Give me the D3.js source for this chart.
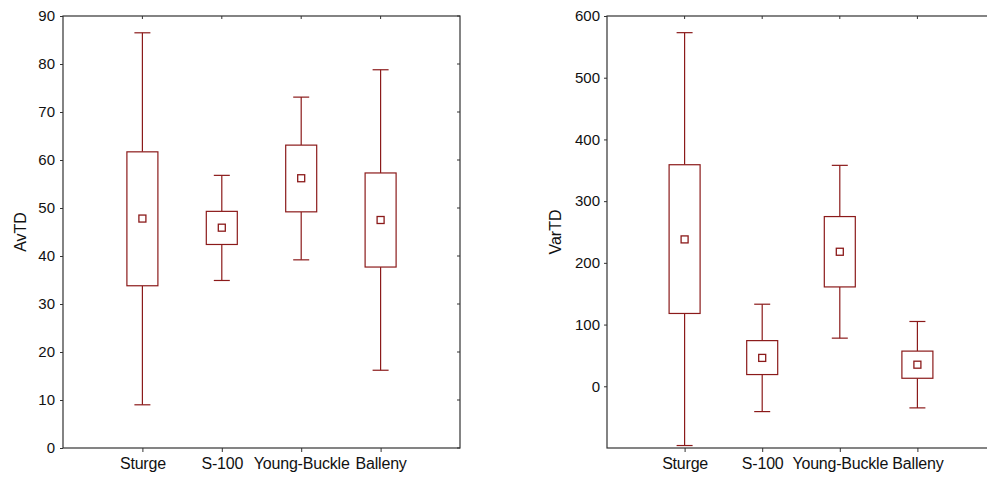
<!DOCTYPE html>
<html lang="en">
<head>
    <meta charset="UTF-8">
    <title>AvTD and VarTD box plots</title>
    <script src="https://d3js.org/d3.v7.min.js"></script>
    <style>
        body { margin: 0; background: #fff; }
        svg { display: block; font-family: "Liberation Sans", Arial, sans-serif; }
    </style>
</head>
<body>
    <script>
    // categories shared by both panels
    const sites = ["Sturge", "S-100", "Young-Buckle", "Balleny"];

    // AvTD: whisker low, box low, mean, box high, whisker high
    const avLow = [9.0, 34.9, 39.2, 16.2];
    const avQ1 = [33.8, 42.4, 49.2, 37.7];
    const avMean = [47.8, 45.9, 56.2, 47.5];
    const avQ3 = [61.7, 49.3, 63.1, 57.3];
    const avHigh = [86.5, 56.8, 73.1, 78.8];
    const avTicks = [0, 10, 20, 30, 40, 50, 60, 70, 80, 90];

    // VarTD
    const varLow = [-96, -41, 78, -35];
    const varQ1 = [118, 19, 161, 13];
    const varMean = [238, 46, 218, 35];
    const varQ3 = [359, 74, 275, 57];
    const varHigh = [573, 133, 358, 105];
    const varTicks = [0, 100, 200, 300, 400, 500, 600];

    const W = 987, H = 477;
    const red = "#8b1a1a";
    const frame = "#333";

    const svg = d3.select("body").append("svg")
        .attr("width", W)
        .attr("height", H);

    function panel(opt) {
        const x = d3.scalePoint().domain(sites).range([opt.left, opt.right]).padding(1);
        const y = d3.scaleLinear().domain(opt.domain).range([448, 16]);
        const g = svg.append("g");

        // frame
        g.append("rect")
            .attr("x", opt.left).attr("y", 16)
            .attr("width", opt.right - opt.left).attr("height", 432)
            .attr("fill", "none").attr("stroke", frame).attr("stroke-width", 1.2);

        // left axis (labels + outside ticks)
        const yAxis = g.append("g")
            .attr("transform", `translate(${opt.left},0)`)
            .call(d3.axisLeft(y).tickValues(opt.ticks).tickSize(3).tickPadding(opt.pad));
        yAxis.select(".domain").remove();
        yAxis.selectAll("line").attr("stroke", frame);
        yAxis.selectAll("text").attr("font-size", 15).attr("fill", "#111")
            .attr("font-family", "Liberation Sans, Arial, sans-serif");

        // right inside ticks
        g.append("g").selectAll("line").data(opt.ticks).join("line")
            .attr("x1", opt.right - 3).attr("x2", opt.right)
            .attr("y1", d => y(d)).attr("y2", d => y(d))
            .attr("stroke", frame);

        // bottom axis
        const xAxis = g.append("g")
            .attr("transform", "translate(0,448)")
            .call(d3.axisBottom(x).tickSize(4).tickPadding(6));
        xAxis.select(".domain").remove();
        xAxis.selectAll("line").attr("stroke", frame);
        xAxis.selectAll("text").attr("font-size", 16).attr("fill", "#111")
            .attr("font-family", "Liberation Sans, Arial, sans-serif")
            .attr("letter-spacing", -0.2);

        // top inside ticks
        g.append("g").selectAll("line").data(sites).join("line")
            .attr("x1", d => x(d)).attr("x2", d => x(d))
            .attr("y1", 16).attr("y2", 19)
            .attr("stroke", frame);

        // y title
        g.append("text")
            .attr("transform", `translate(${opt.titleX},232) rotate(-90)`)
            .attr("text-anchor", "middle")
            .attr("dy", "0.35em")
            .attr("font-size", 16)
            .attr("fill", "#111")
            .text(opt.title);

        const rows = sites.map((s, i) => ({
            s, lo: opt.lo[i], q1: opt.q1[i], m: opt.mean[i], q3: opt.q3[i], hi: opt.hi[i]
        }));

        const b = g.append("g").selectAll("g").data(rows).join("g")
            .attr("stroke", red).attr("fill", "none").attr("stroke-width", 1.2);

        // whiskers
        b.append("line")
            .attr("x1", d => x(d.s)).attr("x2", d => x(d.s))
            .attr("y1", d => y(d.hi)).attr("y2", d => y(d.q3));
        b.append("line")
            .attr("x1", d => x(d.s)).attr("x2", d => x(d.s))
            .attr("y1", d => y(d.q1)).attr("y2", d => y(d.lo));
        b.append("line")
            .attr("x1", d => x(d.s) - 8).attr("x2", d => x(d.s) + 8)
            .attr("y1", d => y(d.hi)).attr("y2", d => y(d.hi));
        b.append("line")
            .attr("x1", d => x(d.s) - 8).attr("x2", d => x(d.s) + 8)
            .attr("y1", d => y(d.lo)).attr("y2", d => y(d.lo));

        // box
        b.append("rect")
            .attr("x", d => x(d.s) - 15.5).attr("width", 31)
            .attr("y", d => y(d.q3)).attr("height", d => y(d.q1) - y(d.q3))
            .attr("fill", "#fff");

        // mean marker
        b.append("rect")
            .attr("x", d => x(d.s) - 3.5).attr("width", 7)
            .attr("y", d => y(d.m) - 3.5).attr("height", 7)
            .attr("fill", "#fff").attr("stroke-width", 1.3);
    }

    panel({
        left: 63, right: 460, domain: [0, 90], ticks: avTicks, title: "AvTD", titleX: 20, pad: 5,
        lo: avLow, q1: avQ1, mean: avMean, q3: avQ3, hi: avHigh
    });

    panel({
        left: 607, right: 995, domain: [-100, 600], ticks: varTicks, title: "VarTD", titleX: 555, pad: 4,
        lo: varLow, q1: varQ1, mean: varMean, q3: varQ3, hi: varHigh
    });
    </script>
</body>
</html>
